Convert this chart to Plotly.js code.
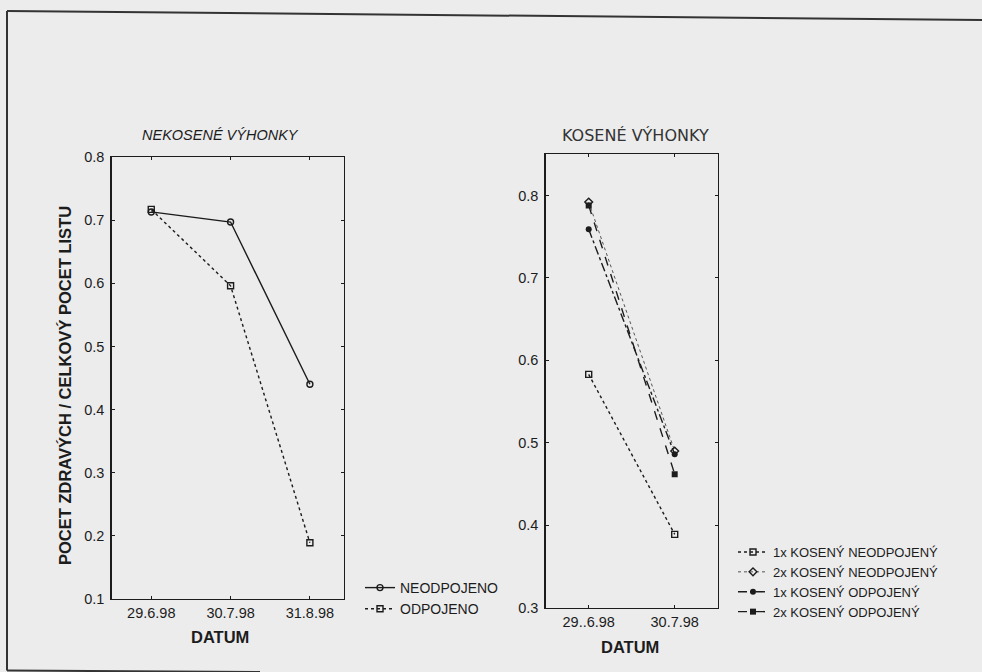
<!DOCTYPE html>
<html>
<head>
<meta charset="utf-8">
<script src="https://cdn.plot.ly/plotly-3.0.1.min.js"></script>
<style>
html,body{margin:0;padding:0;background:#ececec;}
#chart{width:982px;height:672px;}
</style>
</head>
<body>
<div id="chart"></div>
<script>
// ---- data ----
const datesLeft = ['29.6.98', '30.7.98', '31.8.98'];
const neodpojeno = [0.713, 0.697, 0.44];
const odpojeno = [0.717, 0.596, 0.189];

const datesRight = ['29..6.98', '30.7.98'];
const k1Neodpojeny = [0.583, 0.389];
const k2Neodpojeny = [0.792, 0.490];
const k1Odpojeny = [0.759, 0.486];
const k2Odpojeny = [0.788, 0.462];

const leftYTicks = [0.1, 0.2, 0.3, 0.4, 0.5, 0.6, 0.7, 0.8];
const rightYTicks = [0.3, 0.4, 0.5, 0.6, 0.7, 0.8];

// ---- helpers ----
const W = 982, H = 672;
const px = x => x / W;
const py = y => 1 - y / H;
const ink = '#1c1c1c';
const FONT = 'Liberation Sans, Arial, sans-serif';

const traces = [
  {x: datesLeft, y: neodpojeno, name: 'NEODPOJENO', type: 'scatter', mode: 'lines+markers',
   xaxis: 'x', yaxis: 'y', legend: 'legend',
   line: {color: ink, width: 1.4, dash: 'solid'},
   marker: {symbol: 'circle-open', size: 6, color: ink, line: {width: 1.4, color: ink}}},
  {x: datesLeft, y: odpojeno, name: 'ODPOJENO', type: 'scatter', mode: 'lines+markers',
   xaxis: 'x', yaxis: 'y', legend: 'legend',
   line: {color: ink, width: 1.4, dash: 'dot'},
   marker: {symbol: 'square-open', size: 6, color: ink, line: {width: 1.4, color: ink}}},

  {x: datesRight, y: k1Neodpojeny, name: '1x KOSENÝ NEODPOJENÝ', type: 'scatter', mode: 'lines+markers',
   xaxis: 'x2', yaxis: 'y2', legend: 'legend2',
   line: {color: ink, width: 1.4, dash: 'dot'},
   marker: {symbol: 'square-open', size: 6, color: ink, line: {width: 1.4, color: ink}}},
  {x: datesRight, y: k2Neodpojeny, name: '2x KOSENÝ NEODPOJENÝ', type: 'scatter', mode: 'lines+markers',
   xaxis: 'x2', yaxis: 'y2', legend: 'legend2',
   line: {color: '#555', width: 1, dash: 'dot'},
   marker: {symbol: 'diamond-open', size: 6, color: ink, line: {width: 1.4, color: ink}}},
  {x: datesRight, y: k1Odpojeny, name: '1x KOSENÝ ODPOJENÝ', type: 'scatter', mode: 'lines+markers',
   xaxis: 'x2', yaxis: 'y2', legend: 'legend2',
   line: {color: ink, width: 1.4, dash: 'dashdot'},
   marker: {symbol: 'circle', size: 6, color: ink}},
  {x: datesRight, y: k2Odpojeny, name: '2x KOSENÝ ODPOJENÝ', type: 'scatter', mode: 'lines+markers',
   xaxis: 'x2', yaxis: 'y2', legend: 'legend2',
   line: {color: ink, width: 1.4, dash: 'dash'},
   marker: {symbol: 'square', size: 6, color: ink}}
];

const axisCommon = {
  showline: true, linecolor: ink, linewidth: 1.4, mirror: 'ticks',
  ticks: 'inside', ticklen: 3, tickcolor: ink, tickwidth: 1,
  showgrid: false, zeroline: false, fixedrange: true,
  tickfont: {family: FONT, size: 14.5, color: ink}
};

const layout = {
  width: W, height: H,
  margin: {l: 0, r: 0, t: 0, b: 0},
  paper_bgcolor: '#ececec', plot_bgcolor: '#ececec',
  font: {family: FONT, size: 14, color: ink},
  xaxis: Object.assign({}, axisCommon, {
    domain: [px(111.6), px(344)], anchor: 'y', type: 'category',
    range: [-0.5, 2.43]
  }),
  yaxis: Object.assign({}, axisCommon, {
    domain: [py(599), py(157)], anchor: 'x',
    range: [0.1, 0.8], tickvals: leftYTicks, tickformat: '.1f', ticklabelstandoff: 3
  }),
  xaxis2: Object.assign({}, axisCommon, {
    domain: [px(545.7), px(717.7)], anchor: 'y2', type: 'category',
    range: [-0.5, 1.5]
  }),
  yaxis2: Object.assign({}, axisCommon, {
    domain: [py(607.7), py(154.3)], anchor: 'x2',
    range: [0.3, 0.85], tickvals: rightYTicks, tickformat: '.1f', ticklabelstandoff: 3
  }),
  legend: {
    x: px(360), y: py(572), xanchor: 'left', yanchor: 'top',
    bgcolor: 'rgba(0,0,0,0)', borderwidth: 0,
    font: {family: FONT, size: 14, color: ink}, itemwidth: 30
  },
  legend2: {
    x: px(733), y: py(537), xanchor: 'left', yanchor: 'top',
    bgcolor: 'rgba(0,0,0,0)', borderwidth: 0,
    font: {family: FONT, size: 13, color: ink}, itemwidth: 30
  },
  annotations: [
    {text: 'NEKOSENÉ VÝHONKY', xref: 'paper', yref: 'paper', x: px(220), y: py(135),
     showarrow: false, xanchor: 'center', yanchor: 'middle',
     font: {family: FONT, size: 14.5, color: ink, style: 'italic'}},
    {text: 'KOSENÉ VÝHONKY', xref: 'paper', yref: 'paper', x: px(635), y: py(135),
     showarrow: false, xanchor: 'center', yanchor: 'middle',
     font: {family: 'DejaVu Sans, sans-serif', size: 16, color: '#333'}},
    {text: 'POCET ZDRAVÝCH / CELKOVÝ POCET LISTU', xref: 'paper', yref: 'paper', x: px(65), y: py(386),
     showarrow: false, xanchor: 'center', yanchor: 'middle', textangle: -90,
     font: {family: FONT, size: 16.5, color: ink, weight: 'bold'}},
    {text: '<b>DATUM</b>', xref: 'paper', yref: 'paper', x: px(220), y: py(637),
     showarrow: false, xanchor: 'center', yanchor: 'middle',
     font: {family: FONT, size: 16.5, color: ink}},
    {text: '<b>DATUM</b>', xref: 'paper', yref: 'paper', x: px(630), y: py(647),
     showarrow: false, xanchor: 'center', yanchor: 'middle',
     font: {family: FONT, size: 16.5, color: ink}}
  ],
  shapes: [
    {type: 'line', xref: 'paper', yref: 'paper', x0: px(7), y0: py(11), x1: px(982), y1: py(20),
     line: {color: '#333', width: 2}},
    {type: 'line', xref: 'paper', yref: 'paper', x0: px(7), y0: py(11), x1: px(7), y1: py(670.5),
     line: {color: '#333', width: 2}},
    {type: 'line', xref: 'paper', yref: 'paper', x0: px(7), y0: py(670.5), x1: px(260), y1: py(672),
     line: {color: '#333', width: 2}}
  ]
};

Plotly.newPlot('chart', traces, layout, {staticPlot: true, displayModeBar: false});
</script>
</body>
</html>
